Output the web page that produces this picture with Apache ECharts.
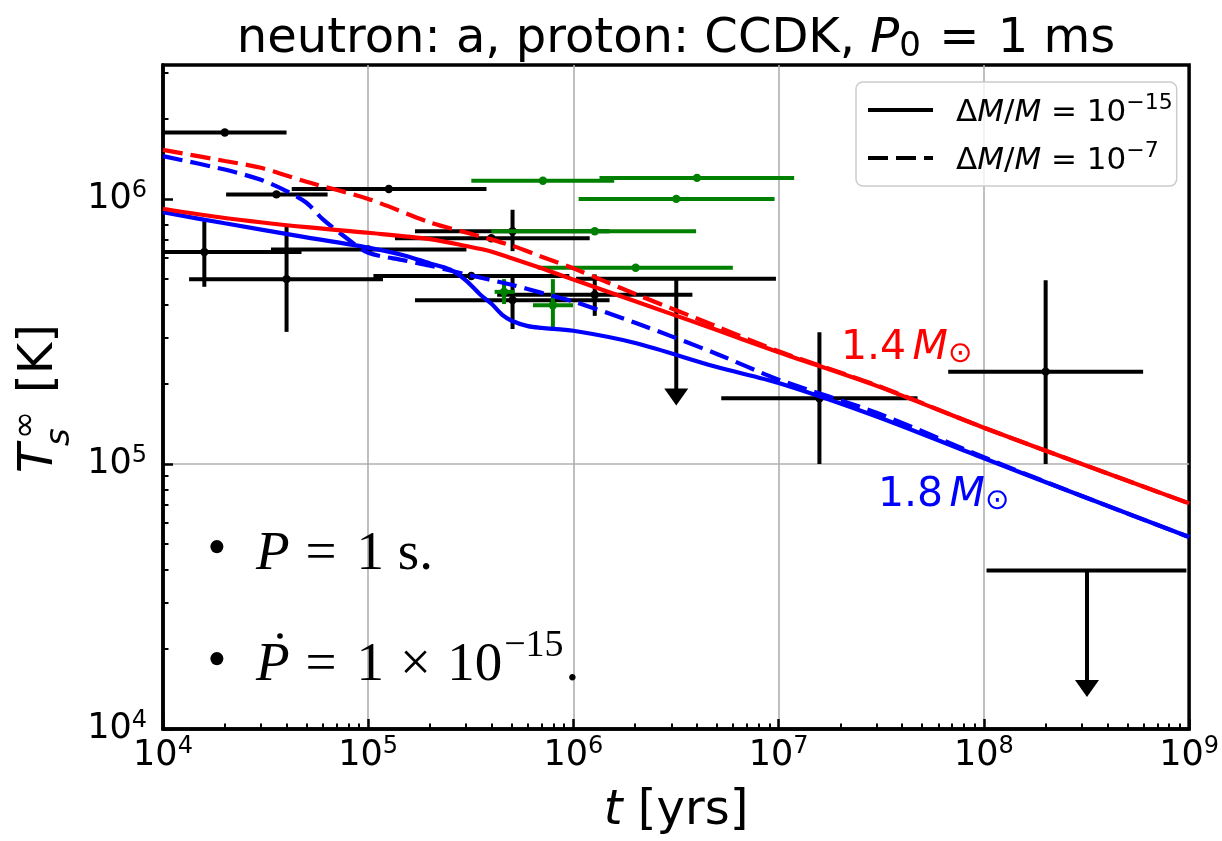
<!DOCTYPE html>
<html>
<head>
<meta charset="utf-8">
<script src="https://cdn.jsdelivr.net/npm/echarts@6/dist/echarts.min.js"></script>
<style>
  html, body { margin: 0; padding: 0; background: #fff; }
  #chart { width: 1222px; height: 841px; }
</style>
</head>
<body>
<div id="chart"></div>
<script>
// cooling curves, [t (yrs), T_s (K)]
const red15 = [[1e4, 9.18e5], [2e4, 8.47e5], [5e4, 7.82e5], [1e5, 7.45e5], [2e5, 7.05e5], [3e5, 6.64e5],
  [4e5, 6.32e5], [5e5, 5.97e5], [7e5, 5.47e5], [1e6, 4.96e5], [2e6, 4.11e5], [5e6, 3.2e5], [1e7, 2.64e5],
  [3e7, 1.97e5], [1e8, 1.37e5], [3e8, 1.0e5], [1e9, 7.1e4]]
const red7 = [[1e4, 1.53e6], [2e4, 1.39e6], [3e4, 1.31e6], [5e4, 1.16e6], [1e5, 1.0e6], [2e5, 8.15e5],
  [3e5, 7.47e5], [5e5, 6.67e5], [7e5, 6.05e5], [1e6, 5.47e5], [2e6, 4.38e5], [5e6, 3.3e5], [1e7, 2.66e5],
  [3e7, 1.98e5], [1e8, 1.37e5], [3e8, 1.0e5], [1e9, 7.1e4]]
const blue15 = [[1e4, 8.9e5], [2e4, 8.09e5], [5e4, 7.16e5], [1e5, 6.55e5], [1.5e5, 6.12e5], [2e5, 5.71e5],
  [2.5e5, 5.42e5], [3e5, 4.92e5], [3.5e5, 4.37e5], [4e5, 4.01e5], [4.5e5, 3.65e5], [5e5, 3.47e5],
  [6e5, 3.31e5], [7e5, 3.26e5], [1e6, 3.18e5], [2e6, 2.86e5], [5e6, 2.32e5], [1e7, 2.02e5], [3e7, 1.51e5],
  [1e8, 1.05e5], [3e8, 7.57e4], [1e9, 5.3e4]]
const blue7 = [[1e4, 1.45e6], [2e4, 1.29e6], [3e4, 1.18e6], [4e4, 1.07e6], [5e4, 9.67e5], [6e4, 8.39e5],
  [8e4, 7.03e5], [1e5, 6.26e5], [1.5e5, 5.86e5], [2e5, 5.6e5], [3e5, 5.19e5], [5e5, 4.74e5], [7e5, 4.42e5],
  [1e6, 4.1e5], [2e6, 3.41e5], [5e6, 2.6e5], [1e7, 2.08e5], [3e7, 1.56e5], [1e8, 1.06e5], [3e8, 7.57e4],
  [1e9, 5.3e4]]

// observations: [t, T, tMin, tMax, TMin, TMax]
const blackObs = [
  [2.0e4, 1.78e6, 1.0e4, 4.0e4],
  [3.57e4, 1.04e6, 2.03e4, 6.34e4],
  [1.26e5, 1.09e6, 4.24e4, 3.77e5],
  [1.59e4, 6.3e5, 5.3e3, 4.73e4, 4.66e5, 8.24e5],
  [4.0e4, 4.98e5, 1.34e4, 1.18e5, 3.15e5, 7.89e5],
  [1.0e5, 6.44e5, 3.36e4, 3.01e5],
  [5.05e5, 7.55e5, 1.69e5, 1.5e6, 6.35e5, 9.1e5],
  [3.98e5, 7.1e5, 1.35e5, 1.2e6],
  [3.18e5, 5.12e5, 1.06e5, 9.55e5],
  [1.27e6, 4.35e5, 4.25e5, 3.8e6, 3.62e5, 5.19e5],
  [5.05e5, 4.15e5, 1.69e5, 1.5e6, 3.23e5, 5.06e5],
  [1.58e7, 1.77e5, 5.25e6, 4.75e7, 1.0e5, 3.14e5],
  [2.0e8, 2.23e5, 6.7e7, 5.97e8, 1.0e5, 4.93e5]
]
const greenObs = [
  [7.1e5, 1.17e6, 3.18e5, 1.58e6],
  [4.0e6, 1.2e6, 1.34e6, 1.19e7],
  [3.17e6, 1.0e6, 1.06e6, 9.55e6],
  [1.27e6, 7.55e5, 3.98e5, 3.96e6],
  [2.01e6, 5.5e5, 6.7e5, 5.98e6],
  [4.59e5, 4.46e5, 4.13e5, 5.17e5, 4.01e5, 4.98e5],
  [7.94e5, 3.97e5, 6.35e5, 9.95e5, 3.18e5, 4.98e5]
]
// upper limits: [t, T, tMin, tMax, arrow end]
const upperLimits = [
  [3.17e6, 5.0e5, 1.03e6, 9.7e6, 1.66e5],
  [3.18e8, 3.96e4, 1.03e8, 9.7e8, 1.32e4]
]

const xMajor = [1e4, 1e5, 1e6, 1e7, 1e8, 1e9]
const yMajor = [1e4, 1e5, 1e6]
const minorMults = [2, 3, 4, 5, 6, 7, 8, 9]

const FONT = 'DejaVu Sans'
const SERIF = 'Liberation Serif'
const DASH = [20, 8]

function minorTicks(decades, max) {
  const out = []
  decades.forEach(d => minorMults.forEach(m => { if (d * m <= max) out.push(d * m) }))
  return out
}
const xMinor = minorTicks([1e4, 1e5, 1e6, 1e7, 1e8], 1e9)
const yMinor = minorTicks([1e4, 1e5, 1e6], 3.2e6)

function pad(rows) {
  return rows.map(r => r.length === 4 ? r.concat([null, null]) : r)
}

function errorBars(color) {
  return function(params, api) {
    const t = api.value(0)
    const T = api.value(1)
    const p = api.coord([t, T])
    const l = api.coord([api.value(2), T])
    const r = api.coord([api.value(3), T])
    const style = { stroke: color, lineWidth: 4 }
    const children = [{ type: 'line', shape: { x1: l[0], y1: p[1], x2: r[0], y2: p[1] }, style }]
    const lo = api.value(4)
    const hi = api.value(5)
    if (lo > 0 && hi > 0) {
      const b = api.coord([t, lo])
      const h = api.coord([t, hi])
      children.push({ type: 'line', shape: { x1: p[0], y1: h[1], x2: p[0], y2: b[1] }, style })
    }
    children.push({ type: 'circle', shape: { cx: p[0], cy: p[1], r: 4.2 }, style: { fill: color } })
    return { type: 'group', children }
  }
}

function upperLimitBars(params, api) {
  const t = api.value(0)
  const T = api.value(1)
  const p = api.coord([t, T])
  const l = api.coord([api.value(2), T])
  const r = api.coord([api.value(3), T])
  const tip = api.coord([t, api.value(4)])
  const style = { stroke: '#000', lineWidth: 4 }
  return {
    type: 'group',
    children: [
      { type: 'line', shape: { x1: l[0], y1: p[1], x2: r[0], y2: p[1] }, style },
      { type: 'line', shape: { x1: p[0], y1: p[1], x2: p[0], y2: tip[1] - 14 }, style },
      { type: 'polygon', shape: { points: [[p[0] - 12, tip[1] - 17], [p[0] + 12, tip[1] - 17], [p[0], tip[1]]] },
        style: { fill: '#000' } }
    ]
  }
}

function curve(name, data, color, dashed) {
  return {
    name,
    type: 'line',
    data,
    symbol: 'none',
    smooth: 0.3,
    z: 5,
    lineStyle: { color, width: 4.2, type: dashed ? DASH : 'solid' },
    emphasis: { disabled: true }
  }
}

const supRich = {
  b: { fontFamily: FONT, fontSize: 35, lineHeight: 35, verticalAlign: 'bottom', color: '#000' },
  s: { fontFamily: FONT, fontSize: 24, lineHeight: 24, padding: [0, 0, 14, 0], verticalAlign: 'bottom', color: '#000' }
}
const powLabel = v => '{b|10}{s|' + Math.round(Math.log10(v)) + '}'

const legendRich = {
  n: { fontFamily: FONT, fontSize: 31, lineHeight: 36, verticalAlign: 'bottom', color: '#000' },
  d: { fontFamily: FONT, fontSize: 31, lineHeight: 36, verticalAlign: 'bottom', color: '#000', padding: [0, 0, 0, 18] },
  i: { fontFamily: FONT, fontSize: 31, lineHeight: 36, fontStyle: 'italic', verticalAlign: 'bottom', color: '#000' },
  p: { fontFamily: FONT, fontSize: 22, lineHeight: 22, padding: [0, 0, 14, 0], verticalAlign: 'bottom', color: '#000' }
}
const legendText = {
  dm15: '{d|Δ}{i|M}{n|/}{i|M}{n| = 10}{p|−15}',
  dm7: '{d|Δ}{i|M}{n|/}{i|M}{n| = 10}{p|−7}'
}

const chart = echarts.init(document.getElementById('chart'))

chart.setOption({
  animation: false,
  backgroundColor: '#fff',
  grid: { left: 163, right: 32, top: 65, bottom: 109, show: true, borderColor: '#000', borderWidth: 3.5 },
  legend: {
    data: ['dm15', 'dm7'],
    orient: 'vertical',
    left: 856,
    top: 82,
    itemWidth: 65,
    itemHeight: 14,
    itemGap: 12,
    padding: [10, 4, 10, 10],
    selectedMode: false,
    backgroundColor: 'rgba(255,255,255,0.8)',
    borderColor: '#cccccc',
    borderWidth: 1.5,
    borderRadius: 7,
    itemStyle: { color: 'rgba(0,0,0,0)', borderWidth: 0, opacity: 0 },
    lineStyle: { width: 4 },
    formatter: name => legendText[name],
    textStyle: { rich: legendRich }
  },
  xAxis: [{
    type: 'log',
    min: 1e4,
    max: 1e9,
    name: '{i|t}{r| [yrs]}',
    nameLocation: 'middle',
    nameGap: 55,
    nameTextStyle: {
      rich: {
        i: { fontFamily: FONT, fontSize: 48, lineHeight: 56, fontStyle: 'italic', color: '#000' },
        r: { fontFamily: FONT, fontSize: 48, lineHeight: 56, color: '#000' }
      }
    },
    axisLine: { onZero: false, lineStyle: { color: '#000', width: 3.5 } },
    axisTick: { inside: true, length: 10, customValues: xMajor, lineStyle: { color: '#000', width: 2.5 } },
    axisLabel: { customValues: xMajor, margin: 9, formatter: powLabel, rich: supRich },
    splitLine: { show: true, showMinLine: false, showMaxLine: false, lineStyle: { color: '#b0b0b0', width: 1.6 } }
  }, {
    type: 'log',
    min: 1e4,
    max: 1e9,
    position: 'bottom',
    axisLine: { show: false },
    axisLabel: { show: false },
    splitLine: { show: false },
    axisTick: { show: true, inside: true, length: 5.5, customValues: xMinor, lineStyle: { color: '#000', width: 2 } }
  }],
  yAxis: [{
    type: 'log',
    min: 1e4,
    max: 3.2e6,
    axisLine: { onZero: false, lineStyle: { color: '#000', width: 3.5 } },
    axisTick: { inside: true, length: 10, customValues: yMajor, lineStyle: { color: '#000', width: 2.5 } },
    axisLabel: { customValues: yMajor, margin: 16, formatter: powLabel, rich: supRich },
    splitLine: { show: true, showMinLine: false, showMaxLine: false, lineStyle: { color: '#b0b0b0', width: 1.6 } }
  }, {
    type: 'log',
    min: 1e4,
    max: 3.2e6,
    position: 'left',
    axisLine: { show: false },
    axisLabel: { show: false },
    splitLine: { show: false },
    axisTick: { show: true, inside: true, length: 5.5, customValues: yMinor, lineStyle: { color: '#000', width: 2 } }
  }],
  series: [
    {
      type: 'custom',
      clip: true,
      z: 2,
      dimensions: ['t', 'T', 'tMin', 'tMax', 'TMin', 'TMax'],
      encode: { x: 0, y: 1 },
      renderItem: errorBars('#000'),
      data: pad(blackObs)
    },
    {
      type: 'custom',
      clip: true,
      z: 2,
      dimensions: ['t', 'T', 'tMin', 'tMax', 'arrow'],
      encode: { x: 0, y: 1 },
      renderItem: upperLimitBars,
      data: upperLimits
    },
    {
      type: 'custom',
      clip: true,
      z: 3,
      dimensions: ['t', 'T', 'tMin', 'tMax', 'TMin', 'TMax'],
      encode: { x: 0, y: 1 },
      renderItem: errorBars('#008000'),
      data: pad(greenObs)
    },
    curve('blue7', blue7, '#0000ff', true),
    curve('red7', red7, '#ff0000', true),
    curve('blue15', blue15, '#0000ff', false),
    curve('red15', red15, '#ff0000', false),
    { name: 'dm15', type: 'line', data: [], symbol: 'none', lineStyle: { color: '#000', width: 4, type: 'solid' }, itemStyle: { color: '#000' } },
    { name: 'dm7', type: 'line', data: [], symbol: 'none', lineStyle: { color: '#000', width: 4, type: DASH }, itemStyle: { color: '#000' } }
  ],
  graphic: [
    {
      type: 'text', x: 676, y: 8, z: 10,
      style: {
        text: '{r|neutron: a, proton: CCDK, }{i|P}{s|0}{e| = }{r|1 ms}',
        align: 'center', verticalAlign: 'top',
        rich: {
          r: { fontFamily: FONT, fontSize: 48, lineHeight: 56, verticalAlign: 'bottom', fill: '#000' },
          e: { fontFamily: FONT, fontSize: 48, lineHeight: 56, verticalAlign: 'bottom', fill: '#000', padding: [0, 3, 0, 3] },
          i: { fontFamily: FONT, fontSize: 48, lineHeight: 56, fontStyle: 'italic', verticalAlign: 'bottom', fill: '#000' },
          s: { fontFamily: FONT, fontSize: 34, lineHeight: 28, verticalAlign: 'bottom', fill: '#000' }
        }
      }
    },
    {
      type: 'group', x: 55, y: 473, rotation: Math.PI / 2, z: 10,
      children: [
        { type: 'text', x: 0, y: -15, style: { text: 'T', fontFamily: FONT, fontSize: 48, fontStyle: 'italic', verticalAlign: 'middle', fill: '#000' } },
        { type: 'text', x: 27, y: 5, style: { text: 's', fontFamily: FONT, fontSize: 34, fontStyle: 'italic', verticalAlign: 'middle', fill: '#000' } },
        { type: 'text', x: 34, y: -29, style: { text: '∞', fontFamily: FONT, fontSize: 34, verticalAlign: 'middle', fill: '#000' } },
        { type: 'text', x: 80, y: -15, style: { text: '[K]', fontFamily: FONT, fontSize: 48, verticalAlign: 'middle', fill: '#000' } }
      ]
    },
    {
      type: 'text', x: 841, y: 321, z: 10,
      style: {
        text: '{r|1.4}{g| }{i|M}{s|⊙}',
        verticalAlign: 'top',
        rich: {
          r: { fontFamily: FONT, fontSize: 41, lineHeight: 48, verticalAlign: 'bottom', fill: '#ff0000' },
          g: { fontFamily: FONT, fontSize: 20, lineHeight: 48, verticalAlign: 'bottom', fill: '#ff0000' },
          i: { fontFamily: FONT, fontSize: 41, lineHeight: 48, fontStyle: 'italic', verticalAlign: 'bottom', fill: '#ff0000' },
          s: { fontFamily: FONT, fontSize: 29, lineHeight: 29, verticalAlign: 'bottom', fill: '#ff0000' }
        }
      }
    },
    {
      type: 'text', x: 878, y: 468, z: 10,
      style: {
        text: '{r|1.8}{g| }{i|M}{s|⊙}',
        verticalAlign: 'top',
        rich: {
          r: { fontFamily: FONT, fontSize: 41, lineHeight: 48, verticalAlign: 'bottom', fill: '#0000ff' },
          g: { fontFamily: FONT, fontSize: 20, lineHeight: 48, verticalAlign: 'bottom', fill: '#0000ff' },
          i: { fontFamily: FONT, fontSize: 41, lineHeight: 48, fontStyle: 'italic', verticalAlign: 'bottom', fill: '#0000ff' },
          s: { fontFamily: FONT, fontSize: 29, lineHeight: 29, verticalAlign: 'bottom', fill: '#0000ff' }
        }
      }
    },
    { type: 'text', x: 217, y: 551, z: 10, style: { text: '•', fontFamily: SERIF, fontSize: 55, align: 'center', verticalAlign: 'middle', fill: '#000' } },
    { type: 'text', x: 217, y: 663, z: 10, style: { text: '•', fontFamily: SERIF, fontSize: 55, align: 'center', verticalAlign: 'middle', fill: '#000' } },
    {
      type: 'text', x: 256, y: 518, z: 10,
      style: {
        text: '{i|P}{o|=}{r|1 s.}',
        verticalAlign: 'top',
        rich: {
          r: { fontFamily: SERIF, fontSize: 55, lineHeight: 64, verticalAlign: 'bottom', fill: '#000' },
          o: { fontFamily: SERIF, fontSize: 55, lineHeight: 64, verticalAlign: 'bottom', fill: '#000', padding: [0, 20, 0, 16] },
          i: { fontFamily: SERIF, fontSize: 55, lineHeight: 64, fontStyle: 'italic', verticalAlign: 'bottom', fill: '#000' }
        }
      }
    },
    {
      type: 'text', x: 256, y: 629, z: 10,
      style: {
        text: '{i|P}{o|=}{r|1}{x|×}{r|10}{p|−15}{q|.}',
        verticalAlign: 'top',
        rich: {
          r: { fontFamily: SERIF, fontSize: 55, lineHeight: 64, verticalAlign: 'bottom', fill: '#000' },
          o: { fontFamily: SERIF, fontSize: 55, lineHeight: 64, verticalAlign: 'bottom', fill: '#000', padding: [0, 20, 0, 16] },
          x: { fontFamily: SERIF, fontSize: 55, lineHeight: 64, verticalAlign: 'bottom', fill: '#000', padding: [0, 16, 0, 16] },
          q: { fontFamily: SERIF, fontSize: 55, lineHeight: 64, verticalAlign: 'bottom', fill: '#000', padding: [0, 0, 0, 2] },
          i: { fontFamily: SERIF, fontSize: 55, lineHeight: 64, fontStyle: 'italic', verticalAlign: 'bottom', fill: '#000' },
          p: { fontFamily: SERIF, fontSize: 38, lineHeight: 38, padding: [0, 0, 28, 2], verticalAlign: 'bottom', fill: '#000' }
        }
      }
    },
    { type: 'circle', z: 10, shape: { cx: 280, cy: 636, r: 2.8 }, style: { fill: '#000' } }
  ]
})
</script>
</body>
</html>
